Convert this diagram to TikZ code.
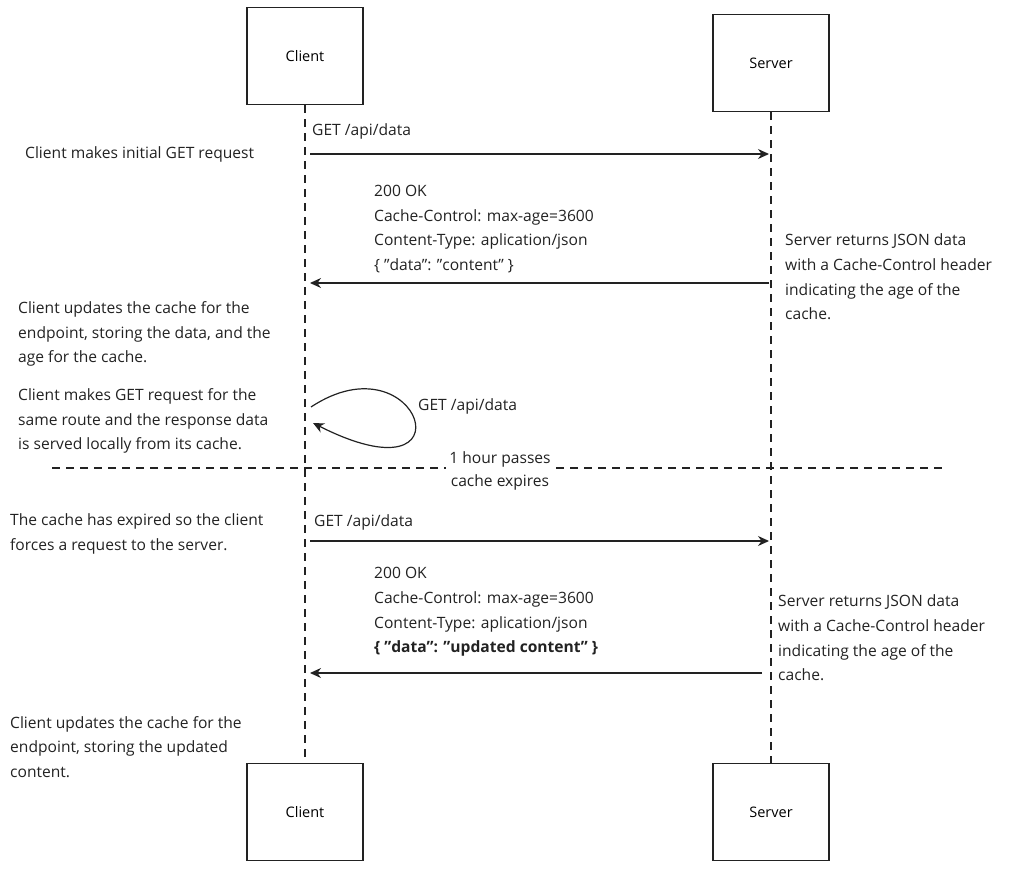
\documentclass[tikz,border=0pt]{standalone}
\usepackage{fontspec}
\setmainfont{Open Sans}
\usetikzlibrary{arrows.meta}
\definecolor{ln}{HTML}{222222}
\newcommand{\qq}{\symbol{34}}
\begin{document}
\begin{tikzpicture}[x=1pt,y=-1pt,
  box/.style={draw=ln,line width=1.2pt,minimum width=116pt,minimum height=97pt,font=\fontsize{14.5}{18}\selectfont},
  life/.style={draw=ln,line width=1.2pt,dash pattern=on 8pt off 6pt},
  msg/.style={draw=ln,line width=1.2pt,-{Stealth[length=11pt,width=10pt]}},
  txt/.style={anchor=west,inner sep=0pt,align=left,font=\fontsize{15.6}{24.6}\selectfont,text=ln}]
\useasboundingbox (0,0) rectangle (1030,874);
\node[box] (c1) at (305,56) {Client};
\node[box] (s1) at (771,63) {Server};
\node[box] (c2) at (305,812) {Client};
\node[box] (s2) at (771,812) {Server};
\draw[life] (c1.south) -- (c2.north);
\draw[life] (s1.south) -- (s2.north);
\coordinate (d1) at (52,468); \coordinate (d2) at (945,468);
\draw[life] (d1) -- (d2);
\node[fill=white,inner sep=3pt,align=center,font=\fontsize{15.6}{23}\selectfont,text=ln] (hp) at (500,471) {1 hour passes\\cache expires};

\coordinate (a1) at (310,154); \coordinate (a2) at (769,154);
\draw[msg] (a1) -- (a2);
\node[txt] (g1) at (312,131) {GET /api/data};
\node[txt] (n1) at (25,154) {Client makes initial GET request};
\coordinate (b1) at (769,283); \coordinate (b2) at (310,283);
\draw[msg] (b1) -- (b2);
\node[txt] (r1) at (374,229) {200 OK\\Cache-Control: max-age=3600\\Content-Type: aplication/json\\\{ \qq data\qq: \qq content\qq\ \}};
\node[txt] (n2) at (785,277) {Server returns JSON data\\with a Cache-Control header\\indicating the age of the\\cache.};
\node[txt] (n3) at (18,334) {Client updates the cache for the\\endpoint, storing the data, and the\\age for the cache.};
\coordinate (l1) at (311,407); \coordinate (l2) at (313,423);
\draw[msg] (l1) .. controls (420,335) and (475,505) .. (l2);
\node[txt] (g2) at (418,406) {GET /api/data};
\node[txt] (n4) at (18,421) {Client makes GET request for the\\same route and the response data\\is served locally from its cache.};

\coordinate (e1) at (310,541); \coordinate (e2) at (769,541);
\draw[msg] (e1) -- (e2);
\node[txt] (g3) at (314,522) {GET /api/data};
\node[txt] (n5) at (10,534) {The cache has expired so the client\\forces a request to the server.};
\coordinate (f1) at (762,673); \coordinate (f2) at (310,673);
\draw[msg] (f1) -- (f2);
\node[txt] (r2) at (374,612) {200 OK\\Cache-Control: max-age=3600\\Content-Type: aplication/json\\\textbf{\{ \qq data\qq: \qq updated content\qq\ \}}};
\node[txt] (n6) at (778,638) {Server returns JSON data\\with a Cache-Control header\\indicating the age of the\\cache.};
\node[txt] (n7) at (10,747) {Client updates the cache for the\\endpoint, storing the updated\\content.};
\end{tikzpicture}
\end{document}
